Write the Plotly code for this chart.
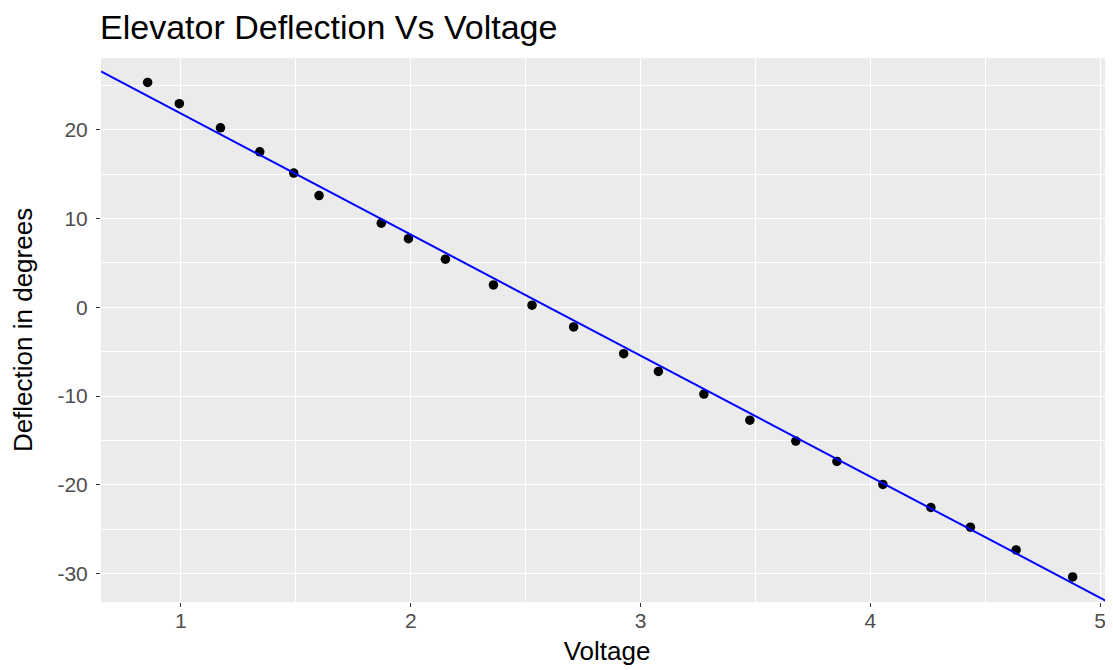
import numpy as np
import plotly.graph_objects as go

# Data
voltage = [0.855, 0.993, 1.172, 1.343, 1.491, 1.601, 1.872, 1.990, 2.151, 2.360,
           2.528, 2.709, 2.927, 3.078, 3.276, 3.476, 3.676, 3.855, 4.055, 4.264,
           4.436, 4.635, 4.881]
deflection = [25.32, 22.92, 20.21, 17.51, 15.11, 12.58, 9.47, 7.72, 5.41, 2.51,
              0.23, -2.22, -5.23, -7.22, -9.77, -12.71, -15.07, -17.36, -19.95, -22.55,
              -24.77, -27.33, -30.37]
fit_intercept = 35.45
fit_slope = -13.63

x_ticks = [1, 2, 3, 4, 5]
y_ticks = [-30, -20, -10, 0, 10, 20]
x_labels = [str(v) for v in x_ticks]
y_labels = [str(v) for v in y_ticks]  # plain hyphen-minus as in the reference

x_range = [0.652, 5.0566]
y_range = [-33.19, 28.07]

line_x = np.array(x_range)
line_y = fit_intercept + fit_slope * line_x

FONT = "Liberation Sans, Arial, sans-serif"
W, H = 1105, 662  # page body has an 8px margin

fig = go.Figure()
fig.add_trace(go.Scatter(x=voltage, y=deflection, mode="markers",
                         marker=dict(color="black", size=9.5),
                         showlegend=False, hoverinfo="x+y"))
fig.add_trace(go.Scatter(x=line_x, y=line_y, mode="lines",
                         line=dict(color="#0000FF", width=2),
                         showlegend=False, hoverinfo="skip"))

axis_common = dict(
    showgrid=True, gridcolor="white", gridwidth=1.4,
    zeroline=False, showline=False,
    ticks="outside", ticklen=4, tickwidth=1.3, tickcolor="#333333",
    tickfont=dict(family=FONT, size=21, color="#4D4D4D"),
    title_font=dict(family=FONT, size=26, color="black"),
)

fig.update_layout(
    width=W, height=H,
    paper_bgcolor="white", plot_bgcolor="#EBEBEB",
    margin=dict(l=93, r=0, t=50, b=68),
    title=dict(text="Elevator Deflection Vs Voltage",
               font=dict(family=FONT, size=34, color="black"),
               x=92 / W, xanchor="left", xref="container",
               y=1 - 19 / H, yanchor="middle", yref="container"),
    xaxis=dict(range=x_range, tickvals=x_ticks, ticktext=x_labels,
               ticklabelstandoff=-4,
               title=dict(text="Voltage", standoff=10),
               minor=dict(dtick=0.5, tick0=0, showgrid=True, gridcolor="white", gridwidth=0.7, ticks=""),
               **axis_common),
    yaxis=dict(range=y_range, tickvals=y_ticks, ticktext=y_labels,
               ticklabelstandoff=4,
               title=dict(text="Deflection in degrees", standoff=24),
               minor=dict(dtick=5, tick0=0, showgrid=True, gridcolor="white", gridwidth=0.7, ticks=""),
               **axis_common),
)

fig.write_html("out.html")
